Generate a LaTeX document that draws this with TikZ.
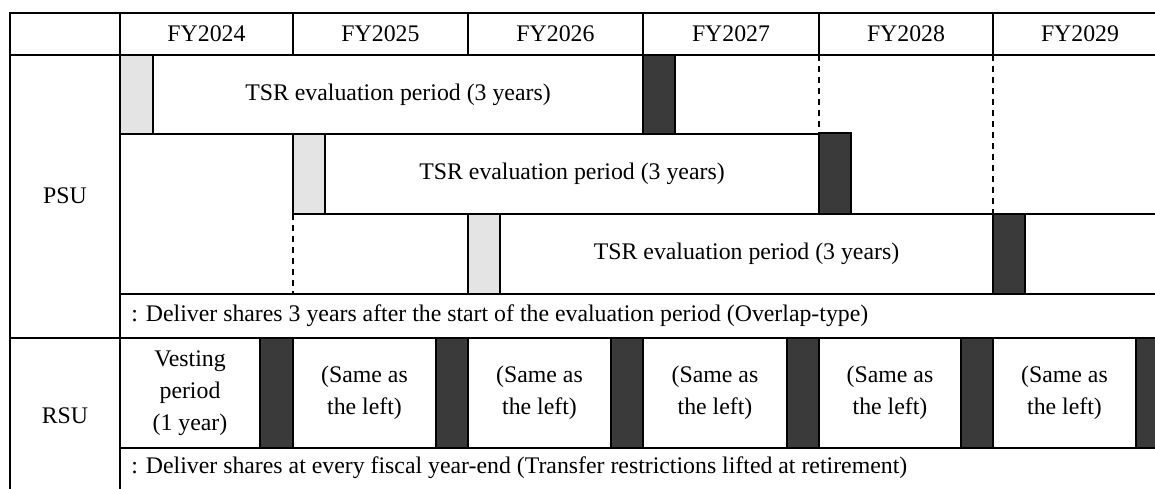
\documentclass[tikz,border=0pt]{standalone}
\usepackage{fontspec}
\setmainfont{Liberation Serif}
\usetikzlibrary{positioning}
\definecolor{tsrdark}{HTML}{3A3A3A}
\definecolor{tsrlight}{HTML}{E4E4E4}

\begin{document}
\begin{tikzpicture}[x=0.5pt, y=-0.5pt,
    every node/.style={font=\fontsize{11.9}{16}\selectfont, inner sep=0pt},
    gridline/.style={line width=1pt},
    evalbox/.style={draw, line width=0.9pt},
    lightbar/.style={draw, fill=tsrlight, line width=0.7pt},
    darkbar/.style={draw, fill=tsrdark, line width=0.7pt},
    dashline/.style={line width=0.6pt, dash pattern=on 3pt off 2.5pt}]
    \useasboundingbox (0,0) rectangle (1155,488);
    \clip (0,0) rectangle (1155,488);

    \draw[gridline] (1200,13) -- (10,13) -- (10,500);
    \draw[gridline] (120,13) -- (120,500);
    \draw[gridline] (10,55) -- (1200,55);
    \draw[gridline] (293,13) -- (293,55);
    \draw[gridline] (468,13) -- (468,55);
    \draw[gridline] (643,13) -- (643,55);
    \draw[gridline] (819,13) -- (819,55);
    \draw[gridline] (993,13) -- (993,55);
    \draw[gridline] (293,214) -- (1200,214);
    \draw[gridline] (120,294) -- (1200,294);
    \draw[gridline] (10,338) -- (1200,338);
    \draw[gridline] (120,448) -- (1200,448);

    \draw[dashline] (819,55) -- (819,134);
    \draw[dashline] (993,55) -- (993,214);
    \draw[dashline] (293,214) -- (293,294);

    \draw[evalbox] (153,55) rectangle (643,134);
    \draw[lightbar] (120,55) rectangle (153,134);
    \draw[darkbar] (643,55) rectangle (675,134);
    \draw[evalbox] (325,134) rectangle (819,214);
    \draw[lightbar] (293,134) rectangle (325,214);
    \draw[darkbar] (819,133) rectangle (851,214);
    \draw[evalbox] (500,214) rectangle (993,294);
    \draw[lightbar] (468,214) rectangle (500,294);
    \draw[darkbar] (993,214) rectangle (1025,294);

    \draw[darkbar] (260,338) rectangle (293,448);
    \draw[darkbar] (436,338) rectangle (468,448);
    \draw[darkbar] (611,338) rectangle (643,448);
    \draw[darkbar] (787,338) rectangle (819,448);
    \draw[darkbar] (961,338) rectangle (993,448);
    \draw[darkbar] (1136,338) rectangle (1168,448);

    \node (fy24) at (206.5,34) {FY2024};
    \node (fy25) at (380.5,34) {FY2025};
    \node (fy26) at (555.5,34) {FY2026};
    \node (fy27) at (731,34) {FY2027};
    \node (fy28) at (906,34) {FY2028};
    \node (fy29) at (1080,34) {FY2029};

    \node (psu) at (65,196) {PSU};
    \node (eval1) at (398,94.5) {TSR evaluation period (3 years)};
    \node (eval2) at (572,174) {TSR evaluation period (3 years)};
    \node (eval3) at (746.5,254) {TSR evaluation period (3 years)};
    \node[anchor=west] (psunote) at (131,316) {: Deliver shares 3 years after the start of the evaluation period (Overlap-type)};

    \node (rsu) at (65,416) {RSU};
    \node[align=center] (vest) at (190,393) {Vesting\\period\\(1 year)};
    \node[align=center] (same25) at (364.5,393) {(Same as\\the left)};
    \node[align=center] (same26) at (539.5,393) {(Same as\\the left)};
    \node[align=center] (same27) at (715,393) {(Same as\\the left)};
    \node[align=center] (same28) at (890,393) {(Same as\\the left)};
    \node[align=center] (same29) at (1064.5,393) {(Same as\\the left)};
    \node[anchor=west] (rsunote) at (131,468) {: Deliver shares at every fiscal year-end (Transfer restrictions lifted at retirement)};
\end{tikzpicture}
\end{document}
